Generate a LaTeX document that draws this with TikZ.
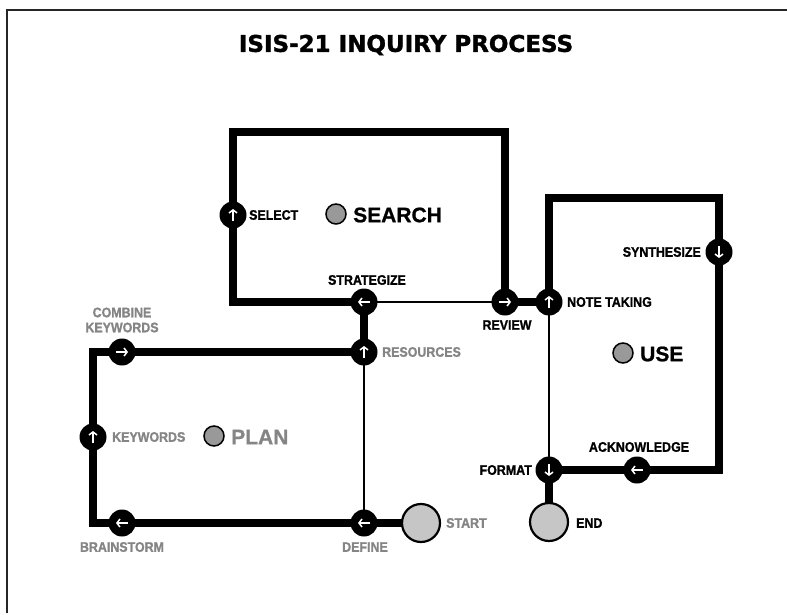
\documentclass[tikz,border=0pt]{standalone}
\usepackage{fontspec}
\setmainfont{Liberation Sans}[BoldFont={Liberation Sans Bold}]
\newfontfamily\lblfont{Liberation Sans Bold}[FakeStretch=0.9,FakeBold=1.2]
\newfontfamily\phasefont{Liberation Sans Bold}[FakeBold=1]
\newfontfamily\titlefont{DejaVu Sans Bold}[FakeBold=1.5]
\usetikzlibrary{arrows.meta,backgrounds}
\definecolor{gtext}{HTML}{858585}
\definecolor{gdot}{HTML}{999999}
\definecolor{gbig}{HTML}{C6C6C6}
\newcommand\myup[1]{\draw[warr,shift={(#1)}] (0,6) -- (0,-6);}
\newcommand\mydown[1]{\draw[warr,shift={(#1)}] (0,-6) -- (0,6);}
\newcommand\myleft[1]{\draw[warr,shift={(#1)}] (6,0) -- (-6,0);}
\newcommand\myright[1]{\draw[warr,shift={(#1)}] (-6,0) -- (6,0);}
\begin{document}
\begin{tikzpicture}[x=1pt,y=-1pt,
  stepnode/.style={circle,fill=black,minimum size=27pt,inner sep=0pt},
  warr/.style={white,line width=1.5pt,-{Straight Barb[length=3pt,width=8pt]}},
  thickln/.style={line width=8pt,line join=miter},
  thinln/.style={line width=1.4pt},
  lab/.style={font=\lblfont\fontsize{13.8}{15}\selectfont,inner sep=0pt},
  glab/.style={lab,text=gtext},
  bigdot/.style={circle,draw=black,line width=2.2pt,fill=gbig,minimum size=38pt,inner sep=0pt},
  phasedot/.style={circle,draw=black,line width=1.5pt,fill=gdot,minimum size=20pt,inner sep=0pt},
  phase/.style={font=\phasefont\fontsize{21}{24}\selectfont,inner sep=0pt}]
\useasboundingbox (0,0) rectangle (787,615);
% frame
\draw[line width=2pt,black!85] (7,613) -- (7,10) -- (787,10);
% title
\node[font=\titlefont\fontsize{23}{26}\selectfont,inner sep=0pt] (title) at (406,45) {ISIS-21 INQUIRY PROCESS};
% step circles
\node[stepnode] (sel) at (233,215) {};
\node[stepnode] (strat) at (364,302) {};
\node[stepnode] (rev) at (505,302) {};
\node[stepnode] (note) at (549,302) {};
\node[stepnode] (syn) at (719,252) {};
\node[stepnode] (ack) at (637,470) {};
\node[stepnode] (fmt) at (549,470) {};
\node[stepnode] (res) at (364,352) {};
\node[stepnode] (comb) at (122,352) {};
\node[stepnode] (kw) at (93,437) {};
\node[stepnode] (brain) at (122,523) {};
\node[stepnode] (def) at (364,523) {};
\node[bigdot] (startc) at (421,523) {};
\node[bigdot] (endc) at (549,522) {};
\coordinate (c1) at (505,132);
\coordinate (c2) at (719,198);
% connectors
\begin{pgfonlayer}{background}
\draw[thickln] (startc.center) -- (def.center) -- (brain.center) -| (kw.center) |- (comb.center) -- (res.center) -- (strat.center) -| (sel.center) |- (c1) -- (rev.center) -- (note.center) |- (c2) -- (syn.center) |- (ack.center) -- (fmt.center) -- (endc.center);
\draw[thinln] (strat.center) -- (rev.center);
\draw[thinln] (res.center) -- (def.center);
\draw[thinln] (note.center) -- (fmt.center);
\end{pgfonlayer}
% arrows in circles
\myup{sel}
\myleft{strat}
\myright{rev}
\myup{note}
\mydown{syn}
\myleft{ack}
\mydown{fmt}
\myup{res}
\myright{comb}
\myup{kw}
\myleft{brain}
\myleft{def}
% labels
\node[lab,anchor=west] (lsel) at (249,215) {SELECT};
\node[phasedot] (dsearch) at (336,214) {};
\node[phase,anchor=west] (lsearch) at (353,215) {SEARCH};
\node[lab] (lstrat) at (367,280) {STRATEGIZE};
\node[lab] (lrev) at (507,325) {REVIEW};
\node[lab,anchor=west] (lnote) at (567,302) {NOTE TAKING};
\node[lab,anchor=east] (lsyn) at (701,252) {SYNTHESIZE};
\node[phasedot] (duse) at (623,353) {};
\node[phase,anchor=west] (luse) at (640,354) {USE};
\node[lab] (lack) at (639,447) {ACKNOWLEDGE};
\node[lab,anchor=east] (lfmt) at (532,470) {FORMAT};
\node[lab,anchor=west] (lend) at (576,523) {END};
\node[glab,anchor=west] (lstart) at (446,523) {START};
\node[glab] (ldef) at (365,547) {DEFINE};
\node[glab] (lbrain) at (122,547) {BRAINSTORM};
\node[glab,anchor=west] (lkw) at (112,437) {KEYWORDS};
\node[phasedot] (dplan) at (214,436) {};
\node[phase,anchor=west,text=gtext] (lplan) at (231,437) {PLAN};
\node[glab,anchor=west] (lres) at (382,352) {RESOURCES};
\node[glab,align=center] (lcomb) at (122,320) {COMBINE\\KEYWORDS};
\end{tikzpicture}
\end{document}
